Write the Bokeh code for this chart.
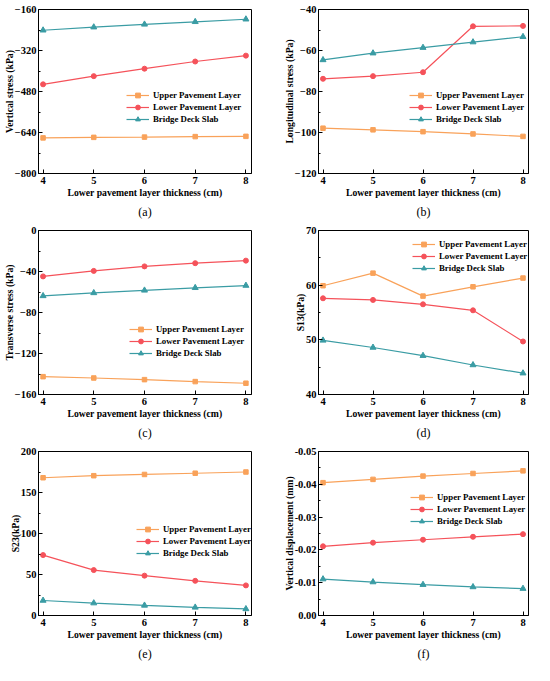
from bokeh.plotting import figure
from bokeh.models import Range1d, FixedTicker, Legend, LegendItem, Title, PrintfTickFormatter
from bokeh.layouts import gridplot
from bokeh.embed import file_html
from bokeh.resources import INLINE

thickness = [4, 5, 6, 7, 8]
x_ticks = [4, 5, 6, 7, 8]
series_names = ["Upper Pavement Layer", "Lower Pavement Layer", "Bridge Deck Slab"]
x_label = "Lower pavement layer thickness (cm)"

# (a) Vertical stress (kPa)
vertical_upper = [-661, -659, -658, -656, -655]
vertical_lower = [-452, -420, -391, -363, -340]
vertical_bridge = [-241, -229, -218, -208, -198]
vertical_ticks = [-800, -640, -480, -320, -160]

# (b) Longitudinal stress (kPa)
long_upper = [-97.9, -98.7, -99.6, -100.7, -101.9]
long_lower = [-73.8, -72.5, -70.6, -48.2, -48.0]
long_bridge = [-64.6, -61.3, -58.6, -55.9, -53.3]
long_ticks = [-120, -100, -80, -60, -40]

# (c) Transverse stress (kPa)
trans_upper = [-142.6, -143.9, -145.5, -147.4, -149.0]
trans_lower = [-44.8, -39.4, -35.0, -31.9, -29.4]
trans_bridge = [-63.8, -60.9, -58.4, -55.9, -53.7]
trans_ticks = [-160, -120, -80, -40, 0]

# (d) S13 (kPa)
s13_upper = [59.9, 62.2, 58.0, 59.7, 61.3]
s13_lower = [57.6, 57.3, 56.5, 55.4, 49.7]
s13_bridge = [49.9, 48.6, 47.1, 45.4, 43.9]
s13_ticks = [40, 50, 60, 70]

# (e) S23 (kPa)
s23_upper = [168.0, 170.5, 172.0, 173.5, 175.0]
s23_lower = [73.7, 55.4, 48.6, 42.3, 36.7]
s23_bridge = [18.3, 15.1, 12.3, 9.9, 8.0]
s23_ticks = [0, 50, 100, 150, 200]

# (f) Vertical displacement (mm)
disp_upper = [-0.0405, -0.0415, -0.0425, -0.0433, -0.0441]
disp_lower = [-0.0211, -0.0222, -0.0231, -0.0240, -0.0248]
disp_bridge = [-0.0111, -0.0102, -0.0094, -0.0087, -0.0082]
disp_ticks = [0.00, -0.01, -0.02, -0.03, -0.04, -0.05]

colors = ["#F9A25A", "#F5525A", "#3A9CA4"]
markers = ["square", "circle", "triangle"]
marker_sizes = [4.5, 5, 6]

FONT = "Liberation Serif"
W, H = 267, 221
TOP, BOTTOM = 9, 48


def minor_between(ticks):
    t = sorted(ticks)
    return [(a + b) / 2 for a, b in zip(t[:-1], t[1:])]


def make_panel(ylabel, yrange, yticks, series, caption, left, right, leg_x, leg_top, fmt=None):
    p = figure(width=W, height=H, output_backend="svg", toolbar_location=None,
               x_range=Range1d(3.91, 8.11), y_range=Range1d(*yrange),
               min_border_left=left, min_border_right=right,
               min_border_top=TOP, min_border_bottom=BOTTOM)
    p.xgrid.visible = False
    p.ygrid.visible = False
    p.outline_line_color = "black"
    p.outline_line_width = 1
    p.background_fill_color = "white"
    p.border_fill_color = "white"

    for ax in (p.xaxis[0], p.yaxis[0]):
        ax.axis_line_color = "black"
        ax.axis_line_width = 1
        ax.major_tick_in = 4
        ax.major_tick_out = 0
        ax.minor_tick_in = 2
        ax.minor_tick_out = 0
        ax.major_tick_line_color = "black"
        ax.minor_tick_line_color = "black"
        ax.major_label_text_font = FONT
        ax.major_label_text_font_style = "bold"
        ax.major_label_text_font_size = "10.5px"
        ax.major_label_text_color = "black"
        ax.axis_label_text_font = FONT
        ax.axis_label_text_font_style = "bold"
        ax.axis_label_text_font_size = "9.7px"
        ax.axis_label_text_color = "black"

    p.xaxis[0].ticker = FixedTicker(ticks=x_ticks, minor_ticks=[])
    p.xaxis[0].axis_label = x_label
    p.xaxis[0].major_label_standoff = 3
    p.xaxis[0].axis_label_standoff = 0
    p.yaxis[0].ticker = FixedTicker(ticks=yticks, minor_ticks=minor_between(yticks))
    p.yaxis[0].axis_label = ylabel
    p.yaxis[0].major_label_standoff = 2
    p.yaxis[0].axis_label_standoff = -3
    if fmt is not None:
        p.yaxis[0].formatter = fmt

    items = []
    for name, ys, c, m, s in zip(series_names, series, colors, markers, marker_sizes):
        lr = p.line(thickness, ys, line_color=c, line_width=1.2)
        sr = p.scatter(thickness, ys, marker=m, size=s, fill_color=c, line_color=c)
        items.append(LegendItem(label=name, renderers=[lr, sr]))

    frame_h = H - TOP - BOTTOM
    leg = Legend(items=items, location=(leg_x, frame_h - leg_top - 36),
                 glyph_width=23, glyph_height=12, label_height=12, spacing=0,
                 label_standoff=4, padding=0, margin=0,
                 border_line_alpha=0, background_fill_alpha=0,
                 label_text_font=FONT, label_text_font_style="bold",
                 label_text_font_size="8.8px", label_text_color="black")
    p.add_layout(leg)

    p.add_layout(Title(text=caption, align="center", text_font=FONT,
                       text_font_style="normal", text_font_size="12px",
                       text_color="black", offset=0, standoff=4), "below")
    return p


pa = make_panel("Vertical stress (kPa)", (-800, -160), vertical_ticks,
                [vertical_upper, vertical_lower, vertical_bridge], "(a)", 37, 15, 88, 80)
pb = make_panel("Longitudinal stress (kPa)", (-120, -40), long_ticks,
                [long_upper, long_lower, long_bridge], "(b)", 48, 6, 91, 80)
pc = make_panel("Transverse stress (kPa)", (-160, 0), trans_ticks,
                [trans_upper, trans_lower, trans_bridge], "(c)", 35, 16, 91, 93)
pd = make_panel("S13(kPa)", (40, 70), s13_ticks,
                [s13_upper, s13_lower, s13_bridge], "(d)", 42, 6, 94, 8)
pe = make_panel("S23(kPa)", (0, 200), s23_ticks,
                [s23_upper, s23_lower, s23_bridge], "(e)", 34, 16, 98, 72)
pf = make_panel("Vertical displacement (mm)", (0.0, -0.05), disp_ticks,
                [disp_upper, disp_lower, disp_bridge], "(f)", 51, 6, 92, 40,
                fmt=PrintfTickFormatter(format="%.2f"))

grid = gridplot([[pa, pb], [pc, pd], [pe, pf]], toolbar_location=None)

open("out.html", "w").write(file_html(grid, INLINE))
